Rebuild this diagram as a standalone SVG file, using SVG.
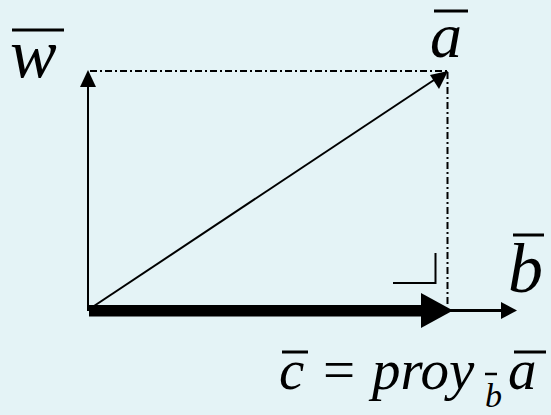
<svg xmlns="http://www.w3.org/2000/svg" width="551" height="415" viewBox="0 0 551 415">
<style>
.bg{fill:#e4f3f6}
.bar{stroke:#000;stroke-width:3;fill:none}
.ln{stroke:#000;stroke-width:2;fill:none}
.dd{stroke:#000;stroke-width:2;fill:none;stroke-dasharray:7 3 2 3}
.head{fill:#000;stroke:none}
</style>
<rect class="bg" x="0" y="0" width="551" height="415"/>
<g id="connectors">
  <line class="dd" x1="90" y1="71" x2="447" y2="71"/>
  <line class="dd" x1="447.5" y1="72" x2="447.5" y2="305"/>
  <line class="ln" x1="88" y1="311" x2="88" y2="84"/>
  <polygon class="head" points="88,70 80,87 96,87"/>
  <line class="ln" x1="88" y1="310" x2="437" y2="78"/>
  <polygon class="head" points="448,71 430,75 439,89"/>
  <line class="ln" x1="450" y1="310.5" x2="505" y2="310.5" style="stroke-width:3"/>
  <polygon class="head" points="517,310.5 501,302 501,319"/>
  <rect class="head" x="89" y="305" width="334" height="11.5"/>
  <polygon class="head" points="453,310.5 421,293 421,328"/>
  <polyline class="ln" points="393,283 435.5,283 435.5,253"/>
</g>
<g font-family="Liberation Serif" font-style="italic" fill="#000">
<g id="w-label">
  <text x="10" y="77" font-size="70">w</text>
  <line class="bar" x1="12" y1="30" x2="64" y2="30"/>
</g>
<g id="a-label">
  <text x="430" y="57" font-size="64">a</text>
  <line class="bar" x1="434" y1="11" x2="468" y2="11"/>
</g>
<g id="b-label">
  <text x="508" y="292" font-size="70">b</text>
  <line class="bar" x1="513" y1="235" x2="544" y2="235"/>
</g>
<g id="formula">
  <text x="279" y="389" font-size="57">c</text>
  <line class="bar" x1="282" y1="352" x2="308" y2="352"/>
  <text x="323" y="389" font-size="57" font-style="normal">=</text>
  <text x="372" y="389" font-size="57">proy</text>
  <text x="485" y="407" font-size="34">b</text>
  <line class="bar" x1="485" y1="374" x2="497" y2="374" style="stroke-width:2.5"/>
  <text x="508" y="389" font-size="57">a</text>
  <line class="bar" x1="514" y1="352" x2="546" y2="352"/>
</g>
</g>
</svg>
